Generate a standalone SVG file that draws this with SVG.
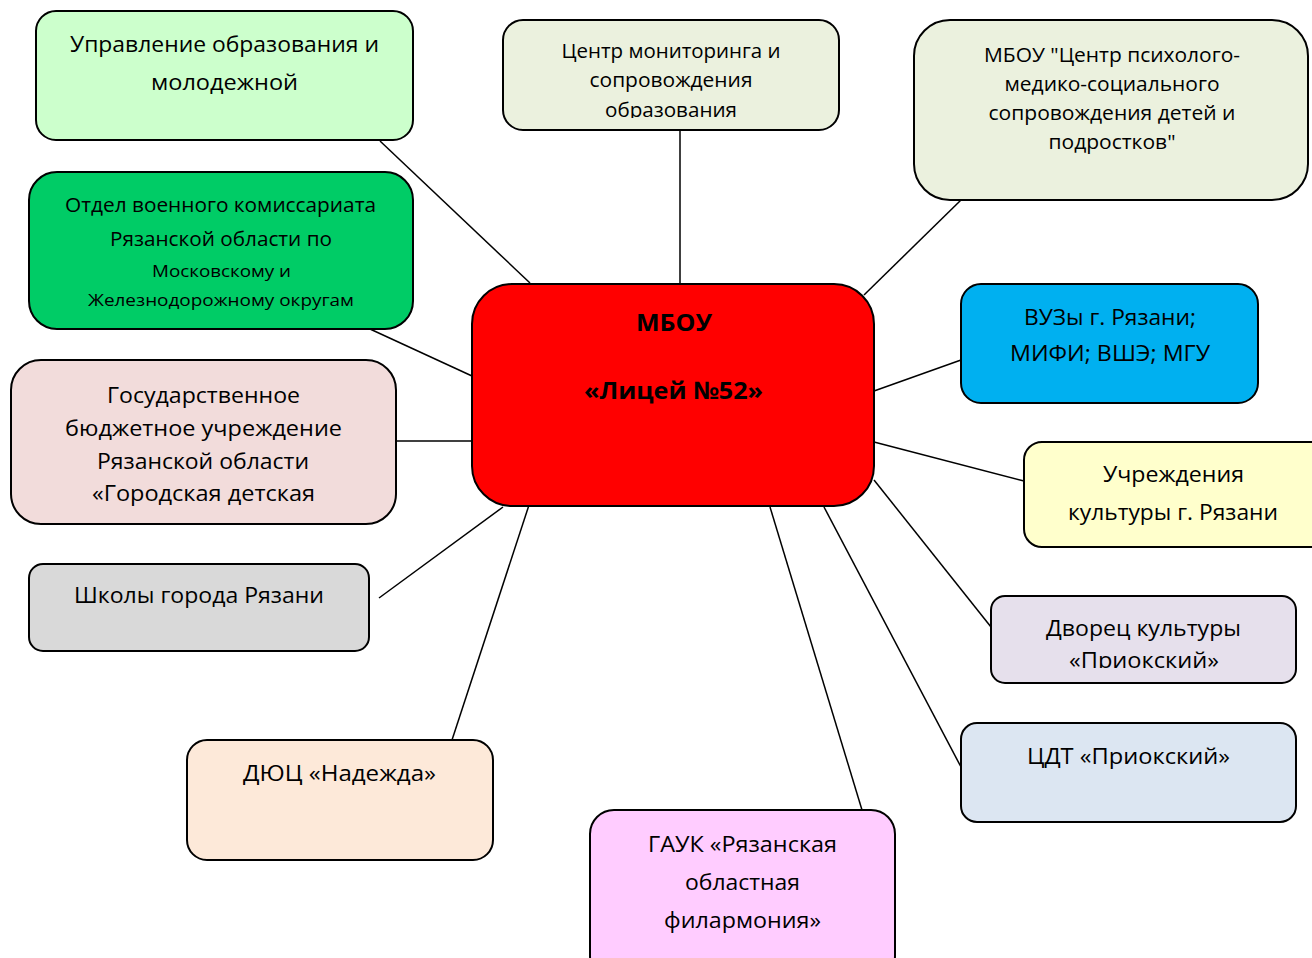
<svg xmlns="http://www.w3.org/2000/svg" width="1312" height="958" viewBox="0 0 1312 958">
<style>
.b{stroke:#000;stroke-width:2}
.t{font-family:"Open Sans","Noto Sans","DejaVu Sans",sans-serif;fill:#000;text-anchor:middle}
.c{stroke:#000;stroke-width:1.5;fill:none}
</style>
<defs>
<clipPath id="clipMon"><rect x="503" y="19" width="336" height="99"/></clipPath>
<clipPath id="clipDv"><rect x="991" y="595" width="306" height="73"/></clipPath>
</defs>
<rect width="1312" height="958" fill="#fff"/>
<g id="connectors">
<line class="c" x1="380" y1="141" x2="530" y2="283"/>
<line class="c" x1="680" y1="130" x2="680" y2="284"/>
<line class="c" x1="961" y1="200" x2="864" y2="295"/>
<line class="c" x1="370" y1="329" x2="472" y2="376"/>
<line class="c" x1="396" y1="441" x2="472" y2="441"/>
<line class="c" x1="379" y1="598" x2="503" y2="507"/>
<line class="c" x1="452" y1="740" x2="530" y2="502"/>
<line class="c" x1="862" y1="810" x2="770" y2="507"/>
<line class="c" x1="961" y1="767" x2="824" y2="507"/>
<line class="c" x1="991" y1="627" x2="874" y2="480"/>
<line class="c" x1="1024" y1="481" x2="874" y2="442"/>
<line class="c" x1="961" y1="360" x2="874" y2="391"/>
</g>
<g id="n-upravlenie">
<rect class="b" x="36" y="11" width="377" height="129" rx="20" fill="#CCFFCC"/>
<text class="t" font-size="22" x="224.5" y="52" textLength="309" lengthAdjust="spacingAndGlyphs">Управление образования и</text>
<text class="t" font-size="22" x="224.5" y="90" textLength="147" lengthAdjust="spacingAndGlyphs">молодежной</text>
</g>
<g id="n-monitoring">
<rect class="b" x="503" y="20" width="336" height="110" rx="20" fill="#EBF1DE"/>
<g clip-path="url(#clipMon)">
<text class="t" font-size="20" x="671" y="58" textLength="219" lengthAdjust="spacingAndGlyphs">Центр мониторинга и</text>
<text class="t" font-size="20" x="671" y="87" textLength="163" lengthAdjust="spacingAndGlyphs">сопровождения</text>
<text class="t" font-size="20" x="671" y="117" textLength="132" lengthAdjust="spacingAndGlyphs">образования</text>
</g>
</g>
<g id="n-pmss">
<rect class="b" x="914" y="20" width="394" height="180" rx="36" fill="#EBF1DE"/>
<text class="t" font-size="20" x="1112" y="62" textLength="256" lengthAdjust="spacingAndGlyphs">МБОУ "Центр психолого-</text>
<text class="t" font-size="20" x="1112" y="91" textLength="215" lengthAdjust="spacingAndGlyphs">медико-социального</text>
<text class="t" font-size="20" x="1112" y="120" textLength="247" lengthAdjust="spacingAndGlyphs">сопровождения детей и</text>
<text class="t" font-size="20" x="1112" y="149" textLength="127" lengthAdjust="spacingAndGlyphs">подростков"</text>
</g>
<g id="n-voenkomat">
<rect class="b" x="29" y="172" width="384" height="157" rx="28" fill="#00CC66"/>
<text class="t" font-size="20" x="220.5" y="212" textLength="311" lengthAdjust="spacingAndGlyphs">Отдел военного комиссариата</text>
<text class="t" font-size="20" x="221" y="246" textLength="222" lengthAdjust="spacingAndGlyphs">Рязанской области по</text>
<text class="t" font-size="17" x="221.5" y="277" textLength="139" lengthAdjust="spacingAndGlyphs">Московскому и</text>
<text class="t" font-size="17" x="221" y="306" textLength="266" lengthAdjust="spacingAndGlyphs">Железнодорожному округам</text>
</g>
<g id="n-gbu">
<rect class="b" x="11" y="360" width="385" height="164" rx="30" fill="#F2DCDB"/>
<text class="t" font-size="22" x="203.5" y="403" textLength="193" lengthAdjust="spacingAndGlyphs">Государственное</text>
<text class="t" font-size="22" x="203.5" y="436" textLength="277" lengthAdjust="spacingAndGlyphs">бюджетное учреждение</text>
<text class="t" font-size="22" x="203" y="469" textLength="212" lengthAdjust="spacingAndGlyphs">Рязанской области</text>
<text class="t" font-size="22" x="203.5" y="501" textLength="223" lengthAdjust="spacingAndGlyphs">«Городская детская</text>
</g>
<g id="n-shkoly">
<rect class="b" x="29" y="564" width="340" height="87" rx="14" fill="#D9D9D9"/>
<text class="t" font-size="21" x="199" y="603" textLength="250" lengthAdjust="spacingAndGlyphs">Школы города Рязани</text>
</g>
<g id="n-dyuc">
<rect class="b" x="187" y="740" width="306" height="120" rx="20" fill="#FDE9D9"/>
<text class="t" font-size="21" x="339.5" y="781" textLength="193" lengthAdjust="spacingAndGlyphs">ДЮЦ «Надежда»</text>
</g>
<g id="n-gauk">
<rect class="b" x="590" y="810" width="305" height="170" rx="24" fill="#FFCCFF"/>
<text class="t" font-size="21" x="742.5" y="852" textLength="189" lengthAdjust="spacingAndGlyphs">ГАУК «Рязанская</text>
<text class="t" font-size="21" x="742.5" y="890" textLength="115" lengthAdjust="spacingAndGlyphs">областная</text>
<text class="t" font-size="21" x="742.5" y="928" textLength="157" lengthAdjust="spacingAndGlyphs">филармония»</text>
</g>
<g id="n-cdt">
<rect class="b" x="961" y="723" width="335" height="99" rx="16" fill="#DCE6F2"/>
<text class="t" font-size="21" x="1128.5" y="764" textLength="203" lengthAdjust="spacingAndGlyphs">ЦДТ «Приокский»</text>
</g>
<g id="n-dvorec">
<rect class="b" x="991" y="596" width="305" height="87" rx="14" fill="#E6E0EC"/>
<g clip-path="url(#clipDv)">
<text class="t" font-size="21" x="1143.5" y="636" textLength="195" lengthAdjust="spacingAndGlyphs">Дворец культуры</text>
<text class="t" font-size="21" x="1144" y="668" textLength="150" lengthAdjust="spacingAndGlyphs">«Приокский»</text>
</g>
</g>
<g id="n-kultura">
<rect class="b" x="1024" y="442" width="306" height="105" rx="18" fill="#FFFFCC"/>
<text class="t" font-size="21" x="1173.5" y="482" textLength="141" lengthAdjust="spacingAndGlyphs">Учреждения</text>
<text class="t" font-size="21" x="1173" y="520" textLength="210" lengthAdjust="spacingAndGlyphs">культуры г. Рязани</text>
</g>
<g id="n-vuzy">
<rect class="b" x="961" y="284" width="297" height="119" rx="20" fill="#00B0F0"/>
<text class="t" font-size="21" x="1110" y="325" textLength="172" lengthAdjust="spacingAndGlyphs">ВУЗы г. Рязани;</text>
<text class="t" font-size="21" x="1110" y="361" textLength="200" lengthAdjust="spacingAndGlyphs">МИФИ; ВШЭ; МГУ</text>
</g>
<g id="n-center">
<rect class="b" x="472" y="284" width="402" height="222" rx="40" fill="#FF0000"/>
<text class="t" font-size="24" font-weight="bold" x="674" y="331" textLength="76" lengthAdjust="spacingAndGlyphs">МБОУ</text>
<text class="t" font-size="24" font-weight="bold" x="673.5" y="399" textLength="179" lengthAdjust="spacingAndGlyphs">«Лицей №52»</text>
</g>
</svg>
